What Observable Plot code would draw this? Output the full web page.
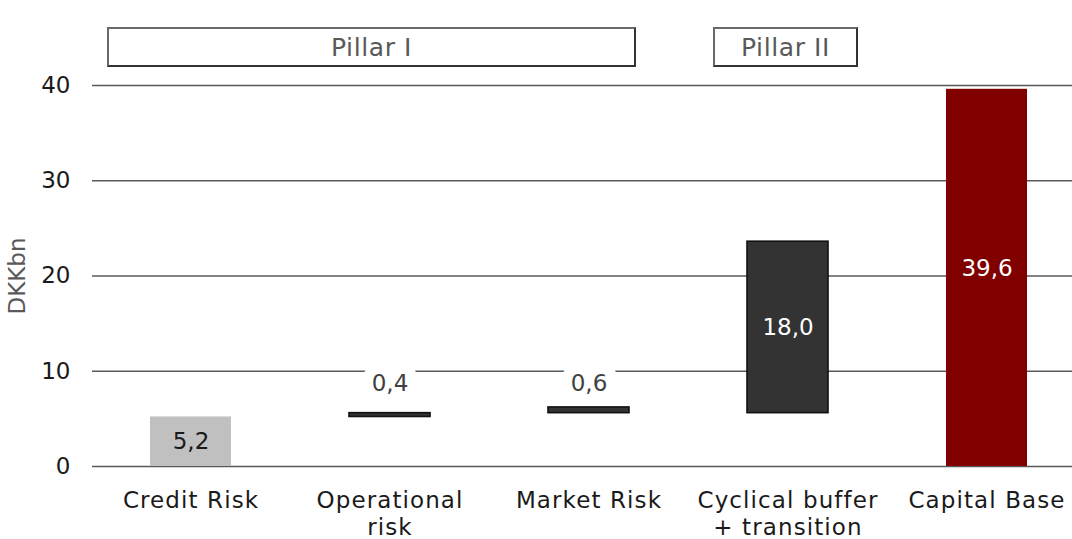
<!DOCTYPE html>
<html>
<head>
<meta charset="utf-8">
<script src="https://cdn.jsdelivr.net/npm/d3@7"></script>
<script src="https://cdn.jsdelivr.net/npm/@observablehq/plot@0.6"></script>
<style>
  html, body { margin: 0; padding: 0; background: #fff; }
  #wrap { position: relative; width: 1072px; height: 539px; overflow: hidden; font-family: "DejaVu Sans", Verdana, sans-serif; }
  .pillar { position: absolute; top: 27px; height: 40px; box-sizing: border-box;
            border: 2px solid #6a6a6a; border-right-color: #333; border-bottom-color: #333;
            color: #595959; font-size: 25px; letter-spacing: 0.6px; display: flex; align-items: center; justify-content: center; background: #fff; }
</style>
</head>
<body>
<div id="wrap"></div>
<script>
const categories = ["Credit Risk", "Operational\nrisk", "Market Risk", "Cyclical buffer\n+ transition", "Capital Base"];
const starts = [0, 5.2, 5.6, 5.6, 0];
const ends = [5.2, 5.6, 6.2, 23.6, 39.6];
const valueLabels = ["5,2", "0,4", "0,6", "18,0", "39,6"];
const kinds = ["base", "step", "step", "step", "total"];
const yTicks = [0, 10, 20, 30, 40];
const yLabel = "DKKbn";
const pillarLabels = ["Pillar I", "Pillar II"];

const data = categories.map((c, i) => ({
  cat: c, start: starts[i], end: ends[i], label: valueLabels[i], kind: kinds[i],
  small: (ends[i] - starts[i]) < 2
}));
const smallTop = d3.max(data.filter(d => d.small), d => d.end);

const font = "'DejaVu Sans', Verdana, sans-serif";

const plot = Plot.plot({
  width: 1072,
  height: 539,
  marginTop: 85,
  marginBottom: 73,
  marginLeft: 92,
  marginRight: 0,
  style: { fontFamily: font, fontSize: "23px", color: "#1a1a1a", background: "transparent" },
  x: { type: "band", domain: categories, range: [90.5, 1085.5], paddingInner: 0.593, paddingOuter: 0.2965, axis: null },
  y: { domain: [0, 40], axis: null },
  marks: [
    Plot.ruleY(yTicks, { stroke: "#595959", strokeWidth: 1.7 }),
    Plot.axisY({ ticks: yTicks, tickSize: 0, tickPadding: 22, fontSize: 23, label: null, fill: "#1a1a1a" }),
    Plot.axisX({ tickSize: 0, tickPadding: 23, fontSize: 23, lineHeight: 1.15, label: null, fill: "#1a1a1a" }),
    Plot.text([yLabel], { frameAnchor: "left", textAnchor: "middle", rotate: -90, dx: -75, fontSize: 23, fill: "#595959" }),
    Plot.barY(data.filter(d => d.kind === "base"), { x: "cat", y1: "start", y2: "end", fill: "#c0c0c0" }),
    Plot.barY(data.filter(d => d.kind === "step"), { x: "cat", y1: "start", y2: "end", fill: "#333333", stroke: "#111", strokeWidth: 1.6 }),
    Plot.barY(data.filter(d => d.kind === "total"), { x: "cat", y1: "start", y2: "end", fill: "#800000" }),
    Plot.text(data.filter(d => !d.small && d.kind !== "total"), {
      x: "cat", y: d => (d.start + d.end) / 2, text: "label", fontSize: 23,
      fill: d => d.kind === "base" ? "#1a1a1a" : "#ffffff"
    }),
    Plot.text(data.filter(d => d.kind === "total"), {
      x: "cat", y: d => (d.start + d.end) / 2, text: "label", fontSize: 23, dy: -9, fill: "#ffffff"
    }),
    Plot.text(data.filter(d => d.small), {
      x: "cat", y: () => smallTop, text: "label", fontSize: 23, dy: -24,
      fill: "#404040", stroke: "#ffffff", strokeWidth: 22, strokeLinejoin: "round"
    })
  ]
});

d3.select(plot).selectAll("[aria-label='x-axis tick label'] text").style("letter-spacing", "1.1px");

const wrap = document.getElementById("wrap");
wrap.appendChild(plot);

const p1 = document.createElement("div");
p1.className = "pillar";
p1.style.left = "107px"; p1.style.width = "529px";
p1.textContent = pillarLabels[0];
wrap.appendChild(p1);

const p2 = document.createElement("div");
p2.className = "pillar";
p2.style.left = "713px"; p2.style.width = "145px";
p2.textContent = pillarLabels[1];
wrap.appendChild(p2);
</script>
</body>
</html>
